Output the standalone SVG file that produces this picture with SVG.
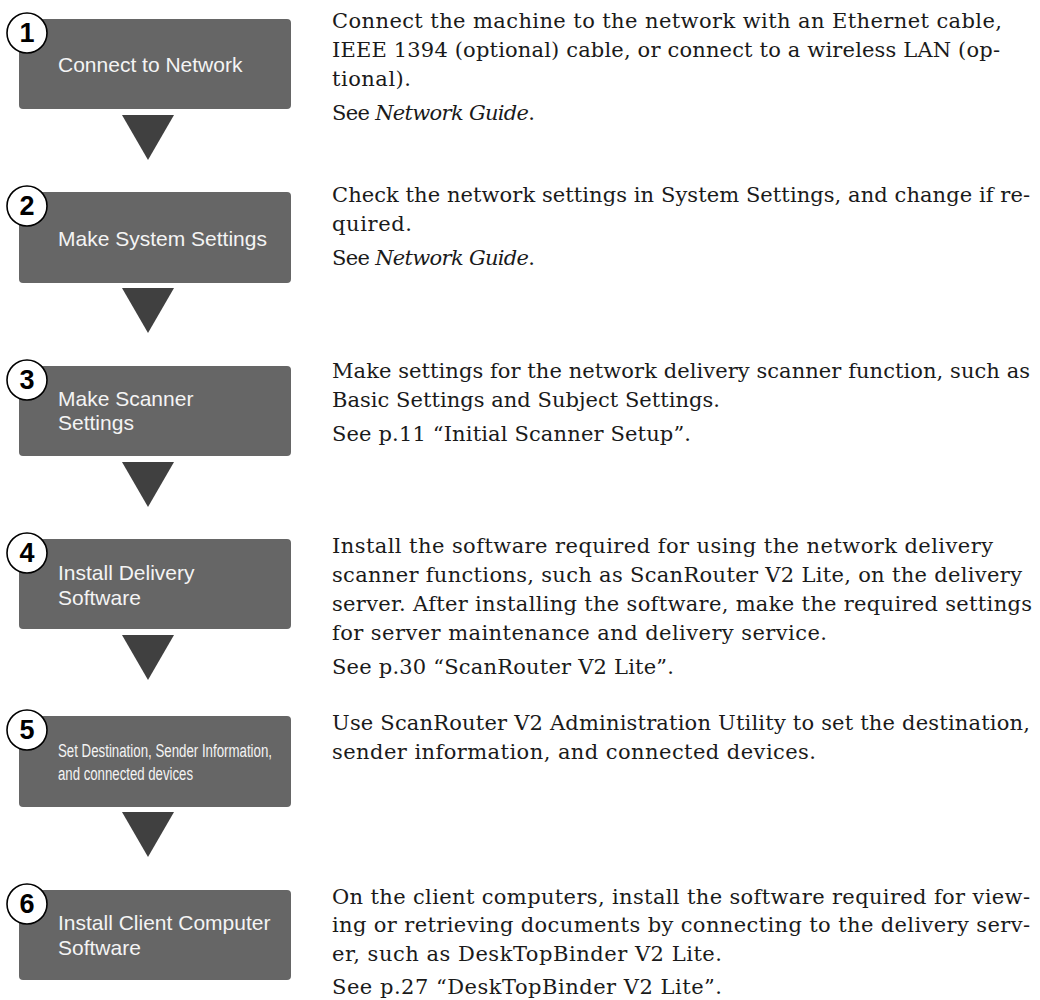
<svg xmlns="http://www.w3.org/2000/svg" width="1040" height="1000" viewBox="0 0 1040 1000">
<style>
.box{fill:#666666;}
.arrow{fill:#404040;}
.badge{fill:#ffffff;stroke:#000000;stroke-width:1.6;}
.num{font-family:"Liberation Sans",Arial,sans-serif;font-weight:bold;font-size:27px;fill:#000;text-anchor:middle;}
.lbl{font-family:"Liberation Sans",Arial,sans-serif;font-size:21px;fill:#f4f4f4;}
.lbln{font-family:"Liberation Sans Narrow","Liberation Sans",Arial,sans-serif;font-size:18px;fill:#f4f4f4;}
.desc{font-family:"DejaVu Serif","Liberation Serif",serif;font-size:21px;fill:#1a1a1a;}
.it{font-style:italic;}
</style>
<rect width="1040" height="1000" fill="#ffffff"/>
<g id="connectors">
<polygon class="arrow" points="122,115 174,115 148,160"/>
<polygon class="arrow" points="122,288 174,288 148,333"/>
<polygon class="arrow" points="122,462 174,462 148,507"/>
<polygon class="arrow" points="122,635 174,635 148,680"/>
<polygon class="arrow" points="122,812 174,812 148,857"/>
</g>
<g id="step1">
<rect class="box" x="19" y="19" width="272" height="90" rx="4"/>
<circle class="badge" cx="27" cy="33" r="20"/>
<text class="num" x="27" y="42">1</text>
<text class="lbl" x="58" y="72">Connect to Network</text>
</g>
<g id="step2">
<rect class="box" x="19" y="192" width="272" height="91" rx="4"/>
<circle class="badge" cx="27" cy="206" r="20"/>
<text class="num" x="27" y="215">2</text>
<text class="lbl" x="58" y="246">Make System Settings</text>
</g>
<g id="step3">
<rect class="box" x="19" y="366" width="272" height="90" rx="4"/>
<circle class="badge" cx="27" cy="380" r="20"/>
<text class="num" x="27" y="389">3</text>
<text class="lbl" x="58" y="406">Make Scanner</text>
<text class="lbl" x="58" y="430">Settings</text>
</g>
<g id="step4">
<rect class="box" x="19" y="539" width="272" height="90" rx="4"/>
<circle class="badge" cx="27" cy="553" r="20"/>
<text class="num" x="27" y="562">4</text>
<text class="lbl" x="58" y="580">Install Delivery</text>
<text class="lbl" x="58" y="605">Software</text>
</g>
<g id="step5">
<rect class="box" x="19" y="716" width="272" height="91" rx="4"/>
<circle class="badge" cx="27" cy="730" r="20"/>
<text class="num" x="27" y="739">5</text>
<text class="lbln" x="58" y="757" textLength="214" lengthAdjust="spacingAndGlyphs">Set Destination, Sender Information,</text>
<text class="lbln" x="58" y="780" textLength="135" lengthAdjust="spacingAndGlyphs">and connected devices</text>
</g>
<g id="step6">
<rect class="box" x="19" y="890" width="272" height="90" rx="4"/>
<circle class="badge" cx="27" cy="904" r="20"/>
<text class="num" x="27" y="913">6</text>
<text class="lbl" x="58" y="930">Install Client Computer</text>
<text class="lbl" x="58" y="955">Software</text>
</g>
<g id="desc1">
<text class="desc" x="332" y="28" textLength="670" lengthAdjust="spacing">Connect the machine to the network with an Ethernet cable,</text>
<text class="desc" x="332" y="57" textLength="668" lengthAdjust="spacing">IEEE 1394 (optional) cable, or connect to a wireless LAN (op-</text>
<text class="desc" x="332" y="86" textLength="79" lengthAdjust="spacing">tional).</text>
<text class="desc" x="332" y="120" textLength="203" lengthAdjust="spacing">See <tspan class="it">Network Guide</tspan>.</text>
</g>
<g id="desc2">
<text class="desc" x="332" y="202" textLength="698" lengthAdjust="spacing">Check the network settings in System Settings, and change if re-</text>
<text class="desc" x="332" y="231" textLength="80" lengthAdjust="spacing">quired.</text>
<text class="desc" x="332" y="265" textLength="203" lengthAdjust="spacing">See <tspan class="it">Network Guide</tspan>.</text>
</g>
<g id="desc3">
<text class="desc" x="332" y="378" textLength="698" lengthAdjust="spacing">Make settings for the network delivery scanner function, such as</text>
<text class="desc" x="332" y="407" textLength="388" lengthAdjust="spacing">Basic Settings and Subject Settings.</text>
<text class="desc" x="332" y="441" textLength="359" lengthAdjust="spacing">See p.11 “Initial Scanner Setup”.</text>
</g>
<g id="desc4">
<text class="desc" x="332" y="553" textLength="661" lengthAdjust="spacing">Install the software required for using the network delivery</text>
<text class="desc" x="332" y="582" textLength="690" lengthAdjust="spacing">scanner functions, such as ScanRouter V2 Lite, on the delivery</text>
<text class="desc" x="332" y="611" textLength="700" lengthAdjust="spacing">server. After installing the software, make the required settings</text>
<text class="desc" x="332" y="640" textLength="495" lengthAdjust="spacing">for server maintenance and delivery service.</text>
<text class="desc" x="332" y="674" textLength="342" lengthAdjust="spacing">See p.30 “ScanRouter V2 Lite”.</text>
</g>
<g id="desc5">
<text class="desc" x="332" y="730" textLength="698" lengthAdjust="spacing">Use ScanRouter V2 Administration Utility to set the destination,</text>
<text class="desc" x="332" y="759" textLength="484" lengthAdjust="spacing">sender information, and connected devices.</text>
</g>
<g id="desc6">
<text class="desc" x="332" y="904" textLength="698" lengthAdjust="spacing">On the client computers, install the software required for view-</text>
<text class="desc" x="332" y="932" textLength="698" lengthAdjust="spacing">ing or retrieving documents by connecting to the delivery serv-</text>
<text class="desc" x="332" y="961" textLength="390" lengthAdjust="spacing">er, such as DeskTopBinder V2 Lite.</text>
<text class="desc" x="332" y="994" textLength="390" lengthAdjust="spacing">See p.27 “DeskTopBinder V2 Lite”.</text>
</g>
</svg>
